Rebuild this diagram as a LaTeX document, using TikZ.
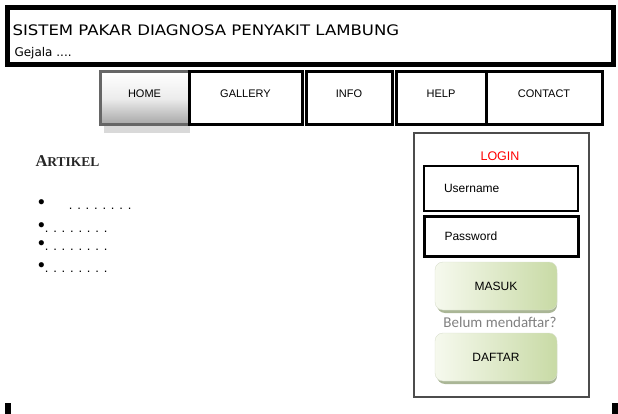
\documentclass[tikz,border=0pt]{standalone}
\usepackage{fontspec}
\setmainfont{Liberation Sans}
\newfontfamily\headfont{DejaVu Sans}
\newfontfamily\notefont{Carlito}
\newfontfamily\artfont{Liberation Serif}
\usetikzlibrary{shapes.misc}

\definecolor{btnlight}{RGB}{246,249,238}
\definecolor{btngreen}{RGB}{200,218,165}
\definecolor{btnshade}{RGB}{170,182,150}
\definecolor{homegray}{RGB}{165,165,165}

\tikzset{
  menuitem/.style={draw, line width=3pt, minimum height=53pt, text height=8pt, text depth=9pt, font=\fontsize{11}{13}\selectfont},
  inputbox/.style={draw, minimum width=154pt, anchor=north west, text width=120pt},
  button/.style={rounded corners=8pt, minimum width=122pt, minimum height=48pt, draw=btngreen!80!black!40, shading angle=60, left color=btnlight, right color=btngreen, font=\fontsize{12}{14}\selectfont},
  btnshadow/.style={rounded corners=8pt, minimum width=120pt, minimum height=48pt, fill=btnshade},
  dotline/.style={anchor=base west, inner sep=1pt, font=\fontsize{13}{15}\selectfont}
}
\newcommand{\bigdot}{{\fontsize{19}{19}\selectfont\smash{\raisebox{1pt}{\textbullet}}}}

\begin{document}
\begin{tikzpicture}[x=1pt,y=-1pt]
\useasboundingbox (0,0) rectangle (618,414);

\draw[line width=5pt] (7.5,7.5) rectangle (613.5,64.5);
\draw (9,30) node (title) [anchor=west, font=\headfont\fontsize{14.5}{16}\selectfont] {\scalebox{1.14}[1]{SISTEM PAKAR DIAGNOSA PENYAKIT LAMBUNG}};
\draw (11,53) node (gejala) [anchor=west, font=\headfont\fontsize{12}{14}\selectfont] {Gejala ....};

\fill[gray!30] (104,125) rectangle (190,133);
\draw (144.5,98.5) node (home) [menuitem, line width=3pt, draw=gray!80!black, minimum width=89pt, top color=white, bottom color=homegray, middle color=gray!15] {HOME};
\draw (245.5,98.5) node (gallery) [menuitem, minimum width=113pt] {GALLERY};
\draw (349,98.5) node (info) [menuitem, minimum width=86pt] {INFO};
\draw (441,98.5) node (help) [menuitem, minimum width=90pt] {HELP};
\draw (544,98.5) node (contact) [menuitem, minimum width=116pt] {CONTACT};

\draw (32,161) node (artikel) [anchor=west, font=\artfont\bfseries\fontsize{16.5}{18}\selectfont, text=black!85] {A\fontsize{13.5}{15}\selectfont RTIKEL};
\draw (37,209) node (item1) [dotline] {\bigdot\hspace{24pt}. . . . . . . .};
\draw (37,232) node (item2) [dotline] {\bigdot. . . . . . . .};
\draw (37,250) node (item3) [dotline] {\bigdot. . . . . . . .};
\draw (37,272) node (item4) [dotline] {\bigdot. . . . . . . .};

\draw[line width=1.5pt, gray!60!black] (414,133) rectangle (589,397);
\draw (500,156) node (login) [text=red, font=\fontsize{12.5}{14}\selectfont] {LOGIN};
\draw (423,165) node (user) [inputbox, line width=2pt, minimum height=45pt, font=\fontsize{12}{14}\selectfont] {\hspace{3pt}Username};
\draw (423,215) node (pass) [inputbox, line width=3pt, minimum height=40pt, font=\fontsize{12}{14}\selectfont] {\hspace{3pt}Password};

\draw (497,289) node (masukshadow) [btnshadow] {};
\draw (496,286) node (masuk) [button] {MASUK};
\draw (500,322) node (belum) [text=gray, font=\notefont\fontsize{15}{17}\selectfont] {Belum mendaftar?};
\draw (497,360) node (daftarshadow) [btnshadow] {};
\draw (496,357) node (daftar) [button] {DAFTAR};

\fill (5,403) rectangle (11,414);
\fill (612,403) rectangle (618,414);
\end{tikzpicture}
\end{document}
